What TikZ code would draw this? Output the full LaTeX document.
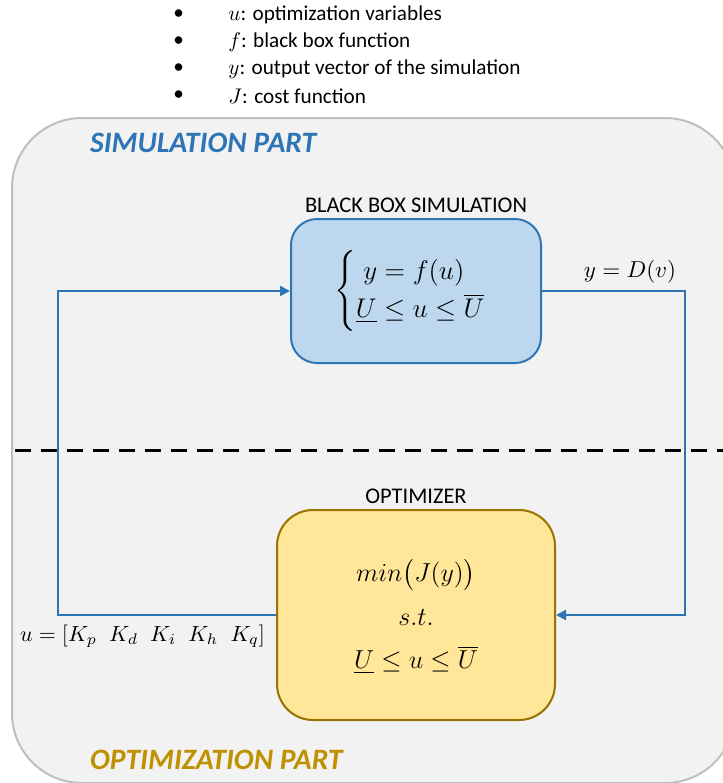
\RequirePackage{fix-cm}
\documentclass[tikz,border=0pt]{standalone}
\usepackage{amsmath,amssymb}
\usepackage{fontspec}
\setmainfont{Carlito}
\usetikzlibrary{arrows.meta}
\definecolor{panelgray}{HTML}{F2F2F2}
\definecolor{panelline}{HTML}{BFBFBF}
\definecolor{simblue}{HTML}{2E75B6}
\definecolor{simfill}{HTML}{BDD7EE}
\definecolor{optgold}{HTML}{BF9000}
\definecolor{optfill}{HTML}{FFE699}
\tikzset{
  simbox/.style={draw=simblue, fill=simfill, line width=1pt, rounded corners=13pt,
    minimum width=125pt, minimum height=72pt, inner sep=0pt},
  optbox/.style={draw=optgold!80!black, fill=optfill, line width=1pt, rounded corners=18pt,
    minimum width=139pt, minimum height=105pt, inner sep=0pt},
  link/.style={draw=simblue, line width=1pt},
  linkarrow/.style={link, -{Triangle[length=5pt,width=5pt]}},
  parttitle/.style={font=\fontsize{14.8}{17}\selectfont\bfseries\itshape, anchor=west},
  boxtitle/.style={font=\fontsize{11.2}{13}\selectfont},
  legend/.style={font=\fontsize{10.6}{12}\selectfont, anchor=west, inner sep=0pt},
  mathlabel/.style={font=\fontsize{11.5}{13}\selectfont},
  boxmath/.style={font=\fontsize{13}{15}\selectfont}
}
\begin{document}
\begin{tikzpicture}[x=0.5pt,y=-0.5pt]
\useasboundingbox (0,0) rectangle (723,783);
% Background panel
\begin{scope}
\clip (0,0) rectangle (723,783);
\filldraw[fill=panelgray, draw=panelline, line width=1pt, rounded corners=35pt] (12,118) rectangle (735,783);
\end{scope}
% Legend
\foreach \y/\txt [count=\i] in {15/{$u$: optimization variables},
    42/{$f$: black box function},
    69/{$y$: output vector of the simulation},
    96/{$J$: cost function}} {
  \node[legend] (bullet\i) at (173,\y) {\textbullet};
  \node[legend] (legend\i) at (228,\y) {\txt};
}
% Part titles
\node[parttitle, text=simblue] (simpart) at (83,143) {SIMULATION PART};
\node[parttitle, text=optgold] (optpart) at (83,760) {OPTIMIZATION PART};
% Separation line
\draw[line width=1.5pt, dash pattern=on 8pt off 5pt] (15,450) -- (723,450);
% Blocks
\node[simbox] (sim) at (416,291) {};
\node[boxmath] (simeq) at (424,291) {\fontsize{13.5}{16}\selectfont
  $\begin{cases} \;y = f(u)\\ \underline{U} \le u \le \overline{U} \end{cases}$};
\node[boxtitle, anchor=south] (simtitle) at (sim.north) [yshift=-1pt] {BLACK BOX SIMULATION};
\node[optbox] (opt) at (416,615) {};
\node[boxmath] (cost) at (416,575) {$min\bigl(J(y)\bigr)$};
\node[boxmath] (st) at (416,617) {$s.t.$};
\node[boxmath] (bounds) at (416,660) {$\underline{U} \le u \le \overline{U}$};
\node[boxtitle, anchor=south] (opttitle) at (opt.north) [yshift=-1pt] {OPTIMIZER};
% Feedback loop
\coordinate (outcorner) at (685,291);
\coordinate (incorner) at (685,615);
\coordinate (ucorner) at (58,615);
\coordinate (topcorner) at (58,291);
\draw[linkarrow] (sim.east) -- (outcorner) -- (incorner) -- (opt.east);
\draw[linkarrow] (opt.west) -- (ucorner) -- (topcorner) -- (sim.west);
\node[mathlabel] (ylabel) at (630,272) {$y = D(v)$};
\node[mathlabel, anchor=east, font=\fontsize{11}{13}\selectfont] (ulabel) at (272,636) {$u = [K_p\;\; K_d\;\; K_i\;\; K_h\;\; K_q]$};
\end{tikzpicture}
\end{document}
